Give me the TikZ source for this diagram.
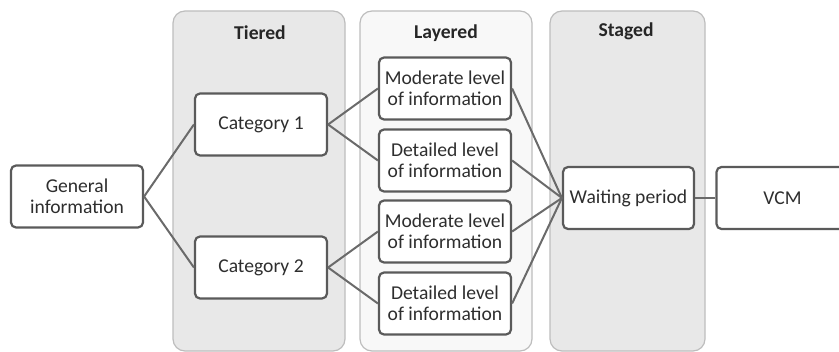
\documentclass[tikz,border=0pt]{standalone}
\usepackage{fontspec}
\setmainfont{Carlito}
\usepackage{tikz}
\usetikzlibrary{positioning}
\definecolor{panelgray}{HTML}{E8E8E8}
\definecolor{panellight}{HTML}{F8F8F8}
\definecolor{paneledge}{HTML}{BDBDBD}
\definecolor{boxedge}{HTML}{5A5A5A}
\definecolor{linkgray}{HTML}{6A6A6A}
\definecolor{txt}{HTML}{2E2E2E}

\begin{document}
\begin{tikzpicture}[x=1pt,y=1pt,node distance=92pt,on grid,
    panel/.style={draw=paneledge,line width=0.6pt,rounded corners=6pt,
      minimum height=170pt,inner sep=0pt},
    title/.style={font=\bfseries\fontsize{9.8}{10.5}\selectfont,text=black!85},
    box/.style={draw=boxedge,line width=1.1pt,fill=white,rounded corners=2.5pt,
      minimum width=66pt,minimum height=31pt,inner sep=1pt,align=center,
      text=txt,font=\fontsize{9.8}{10.5}\selectfont},
    link/.style={draw=linkgray,line width=1pt}]
    \useasboundingbox (0,0) rectangle (419.5,-176);
    \clip (0,0) rectangle (419.5,-176);
    % columns
    \node[panel,fill=panelgray,minimum width=86pt] (tiered) at (129.5,-90.5) {};
    \node[panel,fill=panellight,minimum width=86pt] (layered) at (223,-90.5) {};
    \node[panel,fill=panelgray,minimum width=77.5pt] (staged) at (313.75,-90.5) {};
    \node[title] (t1) at (130,-16.5) {Tiered};
    \node[title] (t2) at (223,-16.5) {Layered};
    \node[title] (t3) at (313,-15.5) {Staged};
    % boxes
    \node[box] (gen) at (38.5,-98.25) {General\\information};
    \node[box] (cat1) [above right=36pt and 92pt of gen] {Category 1};
    \node[box] (cat2) [below right=35.5pt and 92pt of gen] {Category 2};
    \node[box] (l1) [above right=18pt and 92pt of cat1] {Moderate level\\of information};
    \node[box] (l2) [below right=18pt and 92pt of cat1] {Detailed level\\of information};
    \node[box] (l3) [above right=18pt and 92pt of cat2] {Moderate level\\of information};
    \node[box] (l4) [below right=18pt and 92pt of cat2] {Detailed level\\of information};
    \node[box,minimum width=65.5pt] (wait) at (314.25,-99) {Waiting period};
    \node[box] (vcm) [right=77pt of wait] {VCM};
    % links
    \path[link]
    (gen.east) edge (cat1.west) edge (cat2.west)
    (cat1.east) edge (l1.west) edge (l2.west)
    (cat2.east) edge (l3.west) edge (l4.west)
    (wait.west) edge (l1.east) edge (l2.east) edge (l3.east) edge (l4.east)
    (wait.east) edge (vcm.west)
    ;
\end{tikzpicture}
\end{document}
